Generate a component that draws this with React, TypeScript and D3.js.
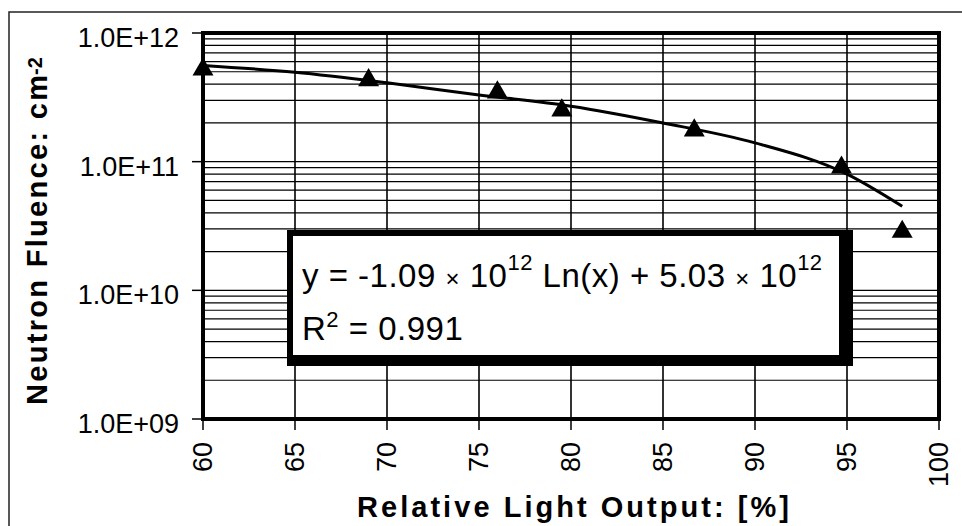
import React, { useRef, useEffect } from 'react'
import * as d3 from 'd3'

// measured points: relative light output (%) vs neutron fluence (cm^-2)
const lightOutput = [60, 69, 76, 79.5, 86.7, 94.7, 98]
const fluence = [5.2e11, 4.3e11, 3.45e11, 2.5e11, 1.75e11, 9.0e10, 2.85e10]

// log trendline
const trendX = [60, 65, 70, 75, 80, 85, 90, 95, 98]
const trendY = [5.6e11, 4.95e11, 4.1e11, 3.3e11, 2.7e11, 2.0e11, 1.4e11, 8.0e10, 4.5e10]

const xTicks = [60, 65, 70, 75, 80, 85, 90, 95, 100]
const yTicks = [1e9, 1e10, 1e11, 1e12]
const yTickLabels = ['1.0E+09', '1.0E+10', '1.0E+11', '1.0E+12']

const xTitle = 'Relative Light Output: [%]'
const yTitle = 'Neutron Fluence: cm'
const yTitleSup = '-2'

// equation label pieces: [text, superscript?, small?]
const eqLine1: [string, boolean, boolean][] = [
  ['y = -1.09 ', false, false], ['×', false, true], [' 10', false, false], ['12', true, false],
  [' Ln(x) + 5.03 ', false, false], ['×', false, true], [' 10', false, false], ['12', true, false],
]
const eqLine2: [string, boolean, boolean][] = [
  ['R', false, false], ['2', true, false], [' = 0.991', false, false],
]

const W = 962
const H = 526
const margin = { top: 33, right: 23, bottom: 107, left: 203 }
const font = 'Arial, "Liberation Sans", sans-serif'

export default function App() {
  const svgRef = useRef<SVGSVGElement>(null)

  useEffect(() => {
    const svg = d3.select(svgRef.current)
    svg.selectAll('*').remove()

    const x = d3.scaleLinear().domain([60, 100]).range([margin.left, W - margin.right])
    const y = d3.scaleLog().domain([1e9, 1e12]).range([H - margin.bottom, margin.top])

    // outer chart frame (runs off the page right/bottom)
    svg.append('rect')
      .attr('x', 9).attr('y', 12).attr('width', 1000).attr('height', 600)
      .attr('fill', '#fff').attr('stroke', '#222').attr('stroke-width', 1.5)

    // gridlines
    const grid = svg.append('g').attr('stroke', '#000').attr('stroke-width', 1.2)
    grid.selectAll('line.h')
      .data(y.ticks())
      .join('line')
      .attr('class', 'h')
      .attr('x1', x(60)).attr('x2', x(100))
      .attr('y1', d => y(d)).attr('y2', d => y(d))
    grid.selectAll('line.v')
      .data(xTicks)
      .join('line')
      .attr('class', 'v')
      .attr('x1', d => x(d)).attr('x2', d => x(d))
      .attr('y1', y(1e12)).attr('y2', y(1e9))
      .attr('stroke-width', 1.6)

    // trendline
    const trendLine = d3.line<number>()
      .x((_, i) => x(trendX[i]))
      .y(d => y(d))
      .curve(d3.curveMonotoneX)
    svg.append('path')
      .datum(trendY)
      .attr('fill', 'none')
      .attr('stroke', '#000')
      .attr('stroke-width', 3)
      .attr('d', trendLine)

    // data markers
    const tri = d3.symbol().type(d3.symbolTriangle).size(190)
    svg.append('g')
      .selectAll('path')
      .data(fluence)
      .join('path')
      .attr('transform', (d, i) => `translate(${x(lightOutput[i])},${y(d)})`)
      .attr('d', tri)
      .attr('fill', '#000')

    // equation box
    const box = { x0: 287, y0: 230, x1: 853, y1: 366 }
    svg.append('rect')
      .attr('x', box.x0).attr('y', box.y0)
      .attr('width', box.x1 - box.x0).attr('height', box.y1 - box.y0)
      .attr('fill', '#000')
    svg.append('rect')
      .attr('x', box.x0 + 6).attr('y', box.y0 + 6)
      .attr('width', box.x1 - box.x0 - 20).attr('height', box.y1 - box.y0 - 17)
      .attr('fill', '#fff')

    const writeEq = (pieces: [string, boolean, boolean][], baseY: number, supShift: number) => {
      const t = svg.append('text')
        .attr('x', box.x0 + 15).attr('y', baseY)
        .attr('font-family', font).attr('font-size', 33)
        .attr('letter-spacing', 0.5).attr('fill', '#000')
        .style('white-space', 'pre')
      let up = false
      pieces.forEach(([txt, sup, small]) => {
        const s = t.append('tspan').text(txt)
        if (sup && !up) { s.attr('dy', -supShift).attr('font-size', 22); up = true }
        else if (!sup && up) { s.attr('dy', supShift); up = false }
        if (small) s.attr('font-size', 24)
      })
    }
    writeEq(eqLine1, 287, 17)
    writeEq(eqLine2, 340, 13)

    // plot border
    svg.append('rect')
      .attr('x', x(60)).attr('y', y(1e12))
      .attr('width', x(100) - x(60)).attr('height', y(1e9) - y(1e12))
      .attr('fill', 'none').attr('stroke', '#000').attr('stroke-width', 4)

    // y axis ticks + labels
    const yAxis = svg.append('g')
    yAxis.selectAll('line')
      .data(yTicks)
      .join('line')
      .attr('x1', x(60) - 11).attr('x2', x(60))
      .attr('y1', d => y(d)).attr('y2', d => y(d))
      .attr('stroke', '#000').attr('stroke-width', 1.5)
    yAxis.selectAll('text')
      .data(yTicks)
      .join('text')
      .attr('x', x(60) - 24)
      .attr('y', d => y(d) + 14)
      .attr('text-anchor', 'end')
      .attr('font-family', font).attr('font-size', 27)
      .attr('fill', '#000')
      .text((_, i) => yTickLabels[i])

    // x axis ticks + labels
    const xAxis = svg.append('g')
    xAxis.selectAll('line')
      .data(xTicks)
      .join('line')
      .attr('x1', d => x(d)).attr('x2', d => x(d))
      .attr('y1', y(1e9)).attr('y2', y(1e9) + 11)
      .attr('stroke', '#000').attr('stroke-width', 1.5)
    xAxis.selectAll('text')
      .data(xTicks)
      .join('text')
      .attr('transform', d => `translate(${x(d) + 9},${y(1e9) + 23}) rotate(-90)`)
      .attr('text-anchor', 'end')
      .attr('font-family', font).attr('font-size', 27)
      .attr('fill', '#000')
      .text(d => d)

    // axis titles
    svg.append('text')
      .attr('x', 357).attr('y', 517)
      .attr('font-family', font).attr('font-size', 29).attr('font-weight', 'bold')
      .attr('textLength', 432).attr('lengthAdjust', 'spacing')
      .text(xTitle)
    svg.append('text')
      .attr('transform', 'translate(47,405) rotate(-90)')
      .attr('font-family', font).attr('font-size', 29).attr('font-weight', 'bold')
      .attr('textLength', 330).attr('lengthAdjust', 'spacing')
      .text(yTitle)
    svg.append('text')
      .attr('transform', 'translate(42,75) rotate(-90)')
      .attr('font-family', font).attr('font-size', 20).attr('font-weight', 'bold')
      .text(yTitleSup)
  }, [])

  return (
    <div style={{ position: 'absolute', left: 0, top: 0, background: '#fff' }}>
      <svg ref={svgRef} width={W} height={H} style={{ display: 'block' }}></svg>
    </div>
  )
}
